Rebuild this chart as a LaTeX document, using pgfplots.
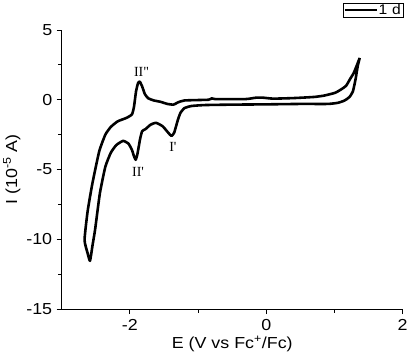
\documentclass[border=0pt]{standalone}
\usepackage{fontspec}
\setmainfont{Liberation Sans}[FakeStretch=1.12]
\newfontfamily\timesfont{Liberation Serif}
\usepackage{pgfplots}
\pgfplotsset{compat=1.18}
\begin{document}
\begin{tikzpicture}
\useasboundingbox (-61.7bp,-54bp) rectangle (345.3bp,309bp);
\begin{axis}[
  at={(0,0)}, anchor=south west,
  scale only axis, width=341bp, height=279bp,
  xmin=-3, xmax=2, ymin=-15, ymax=5,
  axis x line=bottom, axis y line=left,
  axis line style={-, line width=0.9pt},
  every tick/.style={black, line width=0.9pt},
  tick align=outside,
  major tick length=5bp, minor tick length=3.5bp,
  xtick={-2,0,2}, ytick={-15,-10,-5,0,5},
  minor xtick={-1,1}, minor ytick={-12.5,-7.5,-2.5,2.5},
  /pgf/number format/assume math mode=true,
  ticklabel style={font=\fontsize{16}{19}\selectfont},
  xticklabel style={yshift=-2bp},
  yticklabel style={xshift=-1bp},
  xlabel={E (V vs Fc\textsuperscript{+}/Fc)},
  ylabel={I (10\textsuperscript{-5} A)},
  label style={font=\fontsize{16}{19}\selectfont},
  xlabel style={yshift=2bp},
  ylabel style={yshift=-1bp},
  clip=false,
  legend style={at={(1.003,1.097)}, anchor=north east, draw=black, line width=0.6pt,
    font=\fontsize{14}{14}\selectfont, inner sep=0pt, outer sep=0pt, row sep=-3pt,
    nodes={inner ysep=1.2pt, inner xsep=0pt, text width=25bp, align=left}},
  legend image code/.code={\draw[black, line width=2.8pt] (0.05cm,0cm) -- (1.2cm,0cm);},
]
\addplot[black, line width=2.6pt, line join=round, smooth, tension=0.3] coordinates {
(1.37,3.0)(1.33,2.5)(1.28,1.9)(1.23,1.5)(1.17,1.0)(1.10,0.75)(1.01,0.5)(0.85,0.3)(0.7,0.2)
(0.4,0.12)(0.1,0.08)(-0.05,0.15)(-0.15,0.15)(-0.3,0.05)(-0.75,0.05)(-0.8,0.1)(-0.85,0.0)
(-1.2,-0.05)(-1.3,-0.2)(-1.36,-0.35)(-1.45,-0.3)(-1.55,-0.15)(-1.65,-0.05)(-1.73,0.1)
(-1.78,0.4)(-1.82,0.95)(-1.855,1.3)(-1.88,1.2)(-1.91,0.6)(-1.94,-0.5)(-1.97,-1.05)
(-2.05,-1.3)(-2.18,-1.55)(-2.28,-1.95)(-2.36,-2.5)(-2.45,-3.7)(-2.55,-6.0)(-2.62,-8.0)
(-2.665,-10.05)(-2.62,-11.0)(-2.585,-11.55)(-2.55,-10.5)(-2.51,-9.3)(-2.44,-6.7)
(-2.36,-4.8)(-2.28,-3.8)(-2.2,-3.25)(-2.1,-2.95)(-2.02,-3.15)(-1.97,-3.6)(-1.94,-4.05)
(-1.915,-4.3)(-1.89,-3.9)(-1.85,-2.8)(-1.82,-2.25)(-1.77,-2.1)(-1.7,-1.8)(-1.62,-1.65)
(-1.52,-1.9)(-1.44,-2.35)(-1.39,-2.6)(-1.35,-2.35)(-1.3,-1.5)(-1.26,-0.95)(-1.2,-0.6)
(-1.1,-0.45)(-0.9,-0.38)(-0.5,-0.35)(0,-0.33)(0.5,-0.3)(0.9,-0.3)(1.05,-0.22)
(1.15,-0.05)(1.22,0.2)(1.27,0.6)(1.31,1.5)(1.34,2.4)(1.37,3.0)
};
\addlegendentry{1 d}
\node[font=\timesfont\fontsize{14}{15}\selectfont] at (axis cs:-1.83,2.0) {II"};
\node[font=\timesfont\fontsize{14}{15}\selectfont] at (axis cs:-1.88,-5.16) {II'};
\node[font=\timesfont\fontsize{14}{15}\selectfont] at (axis cs:-1.37,-3.41) {I'};
\end{axis}
\end{tikzpicture}
\end{document}
